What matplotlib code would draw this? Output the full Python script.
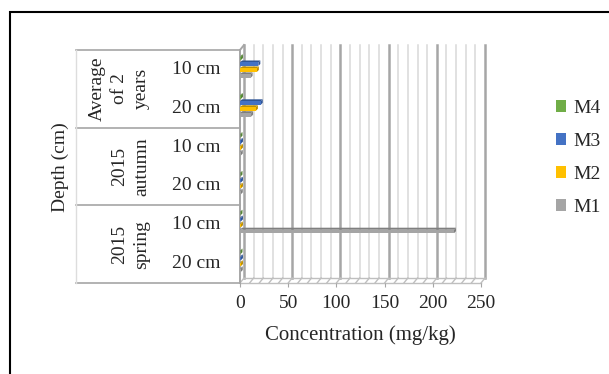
import numpy as np
import matplotlib
matplotlib.use('Agg')
import matplotlib.pyplot as plt
import matplotlib.transforms as mtransforms
from matplotlib.patches import Rectangle
from matplotlib.lines import Line2D

plt.rcParams['font.family'] = ['Liberation Serif', 'DejaVu Serif']

# categories, bottom to top
depth_labels = ['20 cm', '10 cm', '20 cm', '10 cm', '20 cm', '10 cm']
period_labels = ['2015\nspring', '2015\nautumn', 'Average\nof 2\nyears']
series_names = ['M1', 'M2', 'M3', 'M4']

# concentration, mg/kg
m1 = [0.8, 222.0, 0.8, 0.8, 11.5, 11.0]
m2 = [1.0, 1.0, 1.0, 1.0, 16.5, 17.5]
m3 = [1.0, 1.0, 1.0, 1.0, 21.5, 19.0]
m4 = [0.5, 0.5, 0.5, 0.5, 1.0, 1.0]
series = [m1, m2, m3, m4]

face_colors = ['#A5A5A5', '#FFC000', '#4472C4', '#70AD47']
side_colors = ['#7F7F7F', '#BF9000', '#2F5597', '#548235']

FS = 14
TXT = '#262626'

W, H = 609, 374
fig = plt.figure(figsize=(W / 100, H / 100), dpi=100)

# plot area in pixels: front face x 240..481, y 50..283 (from top)
ax_l, ax_r, ax_t, ax_b = 240, 481, 50, 283
ax = fig.add_axes([ax_l / W, 1 - ax_b / H, (ax_r - ax_l) / W, (ax_b - ax_t) / H])
xmax = 250
n = len(depth_labels)
ax.set_xlim(0, xmax)
ax.set_ylim(-0.5, n - 0.5)
for s in ax.spines.values():
    s.set_visible(False)
ax.patch.set_visible(False)
ax.set_yticks([])

# pixel -> data helpers for the fake 3d depth
ux = xmax / (ax_r - ax_l)
uy = n / (ax_b - ax_t)
dx, dy = 4 * ux, 5 * uy        # back wall offset
bx, by = 2 * ux, 2 * uy        # bar depth

y0, y1 = -0.5, n - 0.5

# back wall grid + floor
for v in range(0, xmax + 1, 10):
    major = v % 50 == 0
    ax.plot([v + dx, v + dx], [y0 + dy, y1 + dy], color='#A6A6A6' if major else '#D9D9D9',
            lw=1.8 if major else 1.1, zorder=1, clip_on=False)
    ax.plot([v, v + dx], [y0, y0 + dy], color='#BFBFBF', lw=1.0, zorder=1, clip_on=False)
ax.plot([0, xmax], [y0, y0], color='#BFBFBF', lw=1.0, zorder=1, clip_on=False)
ax.plot([dx, xmax + dx], [y0 + dy, y0 + dy], color='#BFBFBF', lw=1.0, zorder=1, clip_on=False)
# left wall
ax.plot([0, 0], [y0, y1], color='#A6A6A6', lw=1.4, zorder=1, clip_on=False)
ax.plot([0, dx], [y1, y1 + dy], color='#A6A6A6', lw=1.4, zorder=1, clip_on=False)

# bars with a little top and side face
pos = np.arange(n)
step = 0.153
h = 0.09
handles = []
for i, vals in enumerate(series):
    yc = pos + 0.057 + (i - 1.5) * step
    bars = ax.barh(yc, vals, height=h, color=face_colors[i], zorder=3 + i * 0.01,
                   label=series_names[i])
    handles.append(bars)
    for yy, v in zip(yc, vals):
        top = yy + h / 2
        bot = yy - h / 2
        ax.fill([0, v, v + bx, bx], [top, top, top + by, top + by],
                color=side_colors[i], lw=0, zorder=2.9 + i * 0.01, clip_on=False)
        ax.fill([v, v + bx, v + bx, v], [bot, bot + by, top + by, top],
                color=side_colors[i], lw=0, zorder=2.9 + i * 0.01, clip_on=False)

ax.set_xticks(range(0, xmax + 1, 50))
ax.tick_params(axis='x', length=3, color='#A6A6A6', labelsize=FS, labelcolor=TXT, pad=6)
ax.set_xlabel('Concentration (mg/kg)', fontsize=FS + 1, color=TXT, labelpad=9)

# category table on the left
tr = mtransforms.blended_transform_factory(fig.transFigure, ax.transData)
for b in [-0.5, 1.5, 3.5, 5.5]:
    fig.add_artist(Line2D([76 / W, ax_l / W], [b, b], transform=tr, color='#A6A6A6', lw=1.2))
fig.add_artist(Line2D([76 / W, 76 / W], [y0, y1], transform=tr, color='#DDDDDD', lw=1.0))

for k, lab in enumerate(depth_labels):
    fig.text(221 / W, k, lab, transform=tr, ha='right', va='center', fontsize=FS, color=TXT)
for g, lab in enumerate(period_labels):
    fig.text(150 / W, 2 * g + 0.5, lab, transform=tr, ha='right', va='center', rotation=90,
             multialignment='center', linespacing=1.4, fontsize=FS, color=TXT)

fig.text(60 / W, 1 - 167 / H, 'Depth (cm)', ha='center', va='center', rotation=90,
         fontsize=FS, color=TXT)

# legend, M4 on top
fig.legend(handles[::-1], series_names[::-1], loc='center left',
           bbox_to_anchor=(538 / W, 1 - 158 / H), frameon=False, fontsize=FS,
           handlelength=0.55, handleheight=0.55, handletextpad=0.35, labelspacing=0.82,
           labelcolor=TXT)

# chart border
fig.add_artist(Rectangle((10 / W, -0.05), 1.0, 1 - 12 / H + 0.05, transform=fig.transFigure,
                         fill=False, ec='black', lw=1.5))

fig.savefig('out.png', dpi=100)
